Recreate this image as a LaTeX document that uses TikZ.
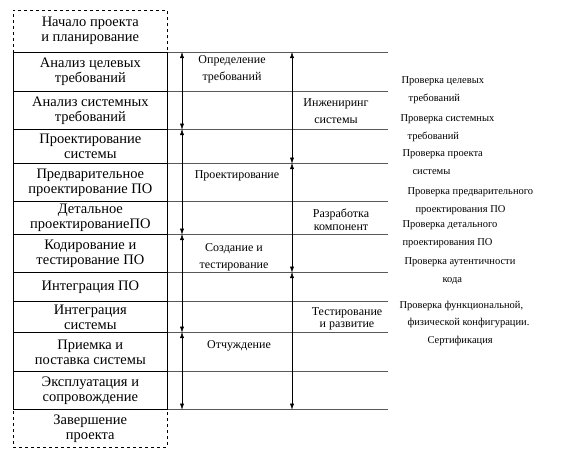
\documentclass[tikz,border=0pt]{standalone}
\usepackage{fontspec}
\setmainfont{Liberation Serif}
\usetikzlibrary{arrows.meta}
\begin{document}
\begin{tikzpicture}[x=1pt, y=-1pt,
  stage/.style={draw, line width=0.7pt, minimum width=154pt, inner sep=0pt,
    align=center, anchor=north west, font=\fontsize{14.5}{15}\selectfont},
  plan/.style={stage, dashed, line width=0.5pt},
  grid/.style={black!65, line width=0.6pt},
  span/.style={{Latex[length=6pt,width=4pt]}-{Latex[length=6pt,width=4pt]}, line width=0.5pt},
  phase/.style={align=center, font=\fontsize{12}{17}\selectfont},
  check/.style={align=left, anchor=west, font=\fontsize{10.5}{17.5}\selectfont}]
  \useasboundingbox (0,0) rectangle (569,464);
  % project stages
  \node[plan, minimum height=42] (start) at (13,10) {Начало проекта\\и планирование};
  \foreach \top/\h/\name/\txt in {
      52/39/s1/{Анализ целевых\\требований},
      91/38/s2/{Анализ системных\\требований},
      129/34/s3/{Проектирование\\системы},
      163/38/s4/{Предварительное\\проектирование ПО},
      201/33/s5/{Детальное\\проектированиеПО},
      234/38/s6/{Кодирование и\\тестирование ПО},
      272/29/s7/{Интеграция ПО},
      301/31/s8/{Интеграция\\системы},
      332/39/s9/{Приемка и\\поставка системы},
      371/38/s10/{Эксплуатация и\\сопровождение}}{
    \node[stage, minimum height=\h] (\name) at (13,\top) {\txt};
  }
  \node[plan, minimum height=38] (finish) at (13,409) {Завершение\\проекта};
  % row lines
  \foreach \n in {s1,s2,s3,s4,s5,s6,s7,s8,s9,s10}{
    \draw[grid] (\n.north east) -- ++(220,0);
  }
  \draw[grid] (s10.south east) -- ++(220,0);
  % phase spans
  \coordinate (c1) at (182,0);
  \coordinate (c2) at (292,0);
  \foreach \a/\b in {s1/s2, s3/s5, s6/s8, s9/s10}{
    \draw[span] (c1 |- \a.north) -- (c1 |- \b.south);
  }
  \foreach \a/\b in {s1/s3, s4/s6, s7/s10}{
    \draw[span] (c2 |- \a.north) -- (c2 |- \b.south);
  }
  % phase labels
  \node[phase] (define) at (232,69) {Определение\\требований};
  \node[phase] (design) at (237,176) {Проектирование};
  \node[phase] (build) at (234,257) {Создание и\\тестирование};
  \node[phase] (handover) at (239,346) {Отчуждение};
  \node[phase] (syseng) at (336,111) {Инжениринг\\системы};
  \node[phase] (compdev) at (341,220) {Разработка\\[-4pt]компонент};
  \node[phase] (testdev) at (347,319) {Тестирование\\[-5pt]и развитие};
  % checks
  \node[check] (chk1) at (398,90) {Проверка целевых\\\hspace*{7pt}требований};
  \node[check] (chk2) at (397,128) {Проверка системных\\\hspace*{7pt}требований};
  \node[check] (chk3) at (399,162) {Проверка проекта\\\hspace*{10pt}системы};
  \node[check] (chk4) at (404,201) {Проверка предварительного\\\hspace*{8pt}проектирования ПО};
  \node[check] (chk5) at (399,234) {Проверка детального\\проектирования ПО};
  \node[check] (chk6) at (401,271) {Проверка аутентичности\\\hspace*{38pt}кода};
  \node[check] (chk7) at (396,323) {Проверка функциональной,\\\hspace*{8pt}физической конфигурации.\\\hspace*{28pt}Сертификация};
\end{tikzpicture}
\end{document}
